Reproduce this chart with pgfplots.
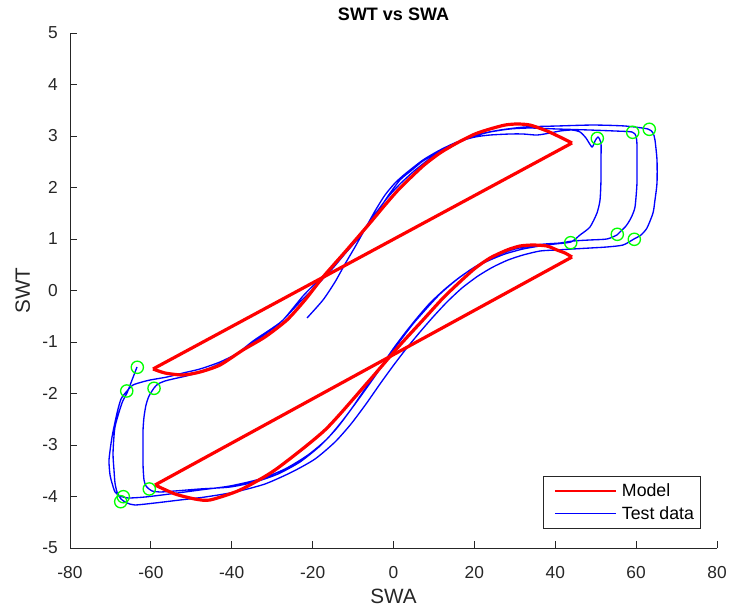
\documentclass[border=0pt]{standalone}
\usepackage{pgfplots}
\pgfplotsset{compat=1.18}
\usepackage{fontspec}
\setmainfont{Liberation Sans}
\definecolor{axgray}{gray}{0.15}
\definecolor{mred}{rgb}{1,0,0}
\definecolor{mblue}{rgb}{0,0,1}
\definecolor{mgreen}{rgb}{0,1,0}
\begin{document}
\begin{tikzpicture}
\useasboundingbox (-52.5pt,-46.5pt) rectangle (496.5pt,411pt);
\begin{axis}[
 at={(0pt,0pt)}, anchor=south west,
 scale only axis, width=485.25pt, height=386.25pt,
 xmin=-80, xmax=80, ymin=-5, ymax=5,
 axis x line*=bottom, axis y line*=left,
 axis line style={-, axgray, line width=0.6pt},
 xtick={-80,-60,-40,-20,0,20,40,60,80}, ytick={-5,-4,-3,-2,-1,0,1,2,3,4,5},
 xticklabels={-80,-60,-40,-20,0,20,40,60,80},
 yticklabels={-5,-4,-3,-2,-1,0,1,2,3,4,5},
 tick align=inside, major tick length=4.9pt,
 tick style={axgray, line width=0.6pt},
 ticklabel style={font=\fontsize{13pt}{15pt}\selectfont, text=axgray},
 xticklabel style={inner sep=0pt, anchor=north, yshift=-13.3pt},
 yticklabel style={inner sep=0pt, anchor=east, xshift=-9pt},
 title={SWT vs SWA},
 title style={font=\bfseries\fontsize{13.5pt}{16pt}\selectfont, at={(axis description cs:0.5,1)}, anchor=base, yshift=3pt},
 xlabel={SWA}, ylabel={SWT},
 label style={font=\fontsize{15.5pt}{18pt}\selectfont, text=axgray},
 xlabel style={at={(axis description cs:0.5,0)}, anchor=base, yshift=-42pt},
 ylabel style={at={(axis description cs:0,0.5)}, anchor=base, yshift=30pt},
 legend cell align=left,
 legend style={at={(axis description cs:0.9753,0.0369)}, anchor=south east, draw=axgray, line width=0.6pt, font=\fontsize{13.3pt}{15pt}\selectfont, inner xsep=3pt, inner ysep=3.5pt, row sep=2pt},
]
\addlegendimage{legend image code/.code={\draw[mred, line width=0.9pt] (5pt,0pt) -- (51pt,0pt); \path (0pt,0pt) (53pt,0pt);}}
\addlegendentry{Model}
\addlegendimage{legend image code/.code={\draw[mblue, line width=0.9pt] (5pt,0pt) -- (51pt,0pt); \path (0pt,0pt) (53pt,0pt);}}
\addlegendentry{Test data}

\addplot[mblue, line width=1pt, smooth, tension=0.4, forget plot] coordinates {
(-21.39,-0.534) (-17.43,-0.184) (-14.47,0.165) (-11.99,0.515) (-9.52,0.845) (-7.05,1.194) (-4.57,1.544) (-2.10,1.854) (0.37,2.087) (2.84,2.262) (7.29,2.534) (11.50,2.728) (15.70,2.883) (20.15,2.980) (23.86,3.019) (28.81,3.039) (32.02,3.039) (35.49,3.019) (38.70,3.058) (41.17,3.097) (44.14,3.116) (46.12,3.078) (47.60,2.961) (49.09,2.786) (49.83,2.903) (50.57,2.980) (51.31,2.864) (51.31,2.534) (51.31,2.146) (51.07,1.757) (50.32,1.505) (48.59,1.233) (46.12,1.078) (43.89,0.942)
(39.94,0.903) (36.23,0.864) (32.02,0.806) (27.57,0.709) (23.86,0.592) (20.15,0.456) (16.44,0.262) (12.74,0.029) (9.03,-0.243) (5.81,-0.534) (2.84,-0.825) (-0.12,-1.136) (-3.34,-1.505) (-6.55,-1.854) (-10.26,-2.282) (-13.97,-2.670) (-18.18,-3.019) (-23.12,-3.330) (-28.56,-3.563) (-34.25,-3.718) (-40.43,-3.816) (-47.85,-3.854) (-54.03,-3.893) (-57.74,-3.913) (-59.72,-3.893) (-60.46,-3.854)
(-61.20,-3.796) (-61.70,-3.680) (-61.94,-3.388) (-61.94,-3.000) (-61.94,-2.709) (-61.70,-2.456) (-61.20,-2.223) (-60.46,-2.048) (-59.22,-1.893)
(-58.23,-1.815) (-56.50,-1.757) (-54.53,-1.718) (-50.32,-1.641) (-45.38,-1.505) (-40.43,-1.330) (-34.74,-0.981) (-31.03,-0.786) (-27.32,-0.573) (-22.38,-0.107) (-18.92,0.165) (-15.70,0.398) (-12.49,0.670) (-9.03,0.981) (-6.55,1.233) (-4.08,1.505) (-1.36,1.835) (1.61,2.146) (4.57,2.340) (7.29,2.515) (11.50,2.709) (15.70,2.864) (20.15,3.000) (23.86,3.078) (28.81,3.136) (33.75,3.155) (40.43,3.136) (48.59,3.116) (54.77,3.097) (58.98,3.078)
(59.97,3.000) (60.21,2.825) (60.21,2.534) (60.21,2.087) (59.72,1.621) (58.73,1.408) (57.49,1.252) (56.01,1.136) (55.27,1.078)
(52.79,1.000) (48.59,0.981) (44.39,0.961) (41.17,0.922) (37.46,0.903) (33.75,0.864) (30.05,0.806) (26.34,0.709) (22.63,0.573) (18.92,0.398) (15.21,0.184) (11.50,-0.068) (8.28,-0.340) (4.82,-0.650) (1.61,-0.981) (-1.61,-1.330) (-5.07,-1.718) (-8.78,-2.126) (-12.49,-2.515) (-16.44,-2.883) (-21.14,-3.194) (-26.83,-3.466) (-33.01,-3.660) (-40.43,-3.796) (-47.85,-3.874) (-55.27,-3.951) (-61.45,-4.010) (-65.65,-4.029) (-67.63,-3.990) (-68.87,-3.913) (-69.61,-3.738) (-70.10,-3.582) (-70.35,-3.291) (-69.61,-2.845) (-68.37,-2.379) (-67.38,-2.107) (-65.90,-1.951)
(-64.42,-1.835) (-62.19,-1.777) (-60.21,-1.738) (-56.01,-1.680) (-52.05,-1.602) (-47.85,-1.524) (-42.90,-1.388) (-37.96,-1.194) (-33.01,-0.922) (-28.07,-0.631) (-23.12,-0.223) (-18.67,0.126) (-14.96,0.437) (-11.25,0.786) (-7.79,1.136) (-4.57,1.485) (-1.36,1.815) (1.61,2.068) (4.82,2.301) (8.53,2.534) (12.74,2.748) (16.94,2.922) (21.39,3.039) (26.34,3.116) (32.52,3.175) (40.43,3.194) (49.33,3.213) (57.25,3.194) (62.93,3.136)
(64.17,3.058) (64.66,2.922) (65.16,2.534) (65.16,2.087) (64.66,1.757) (64.17,1.505) (62.69,1.214) (61.20,1.078) (59.47,1.000)
(56.75,0.883) (52.79,0.845) (48.59,0.825) (44.39,0.806) (40.18,0.786) (36.23,0.767) (32.02,0.689) (28.31,0.592) (24.60,0.456) (20.90,0.282) (16.94,0.049) (13.23,-0.223) (9.77,-0.515) (6.55,-0.806) (3.09,-1.136) (-0.12,-1.466) (-3.34,-1.815) (-6.80,-2.204) (-10.51,-2.592) (-14.47,-2.942) (-19.41,-3.272) (-25.10,-3.524) (-31.78,-3.757) (-39.19,-3.913) (-46.61,-4.010) (-52.79,-4.068) (-58.98,-4.126) (-63.92,-4.165) (-65.90,-4.126) (-67.38,-4.049) (-68.37,-3.913) (-68.87,-3.738) (-69.12,-3.485) (-69.36,-3.155) (-68.87,-2.650) (-67.14,-2.184) (-65.90,-1.990) (-64.66,-1.738) (-63.43,-1.485)
};

\addplot[mred, line width=2.4pt, smooth, tension=0.4, forget plot] coordinates {
(-59.47,-1.524) (-56.50,-1.602) (-52.05,-1.641) (-47.85,-1.583) (-42.90,-1.447) (-37.22,-1.155) (-31.78,-0.903) (-26.34,-0.573) (-21.88,-0.184) (-17.43,0.262) (-11.99,0.748) (-5.81,1.311) (-2.10,1.660) (1.61,1.990) (7.29,2.417) (11.50,2.670) (15.70,2.864) (20.15,3.039) (23.86,3.136) (27.57,3.213) (30.54,3.233) (33.75,3.213) (37.96,3.097) (41.17,2.980) (44.14,2.864)
};
\addplot[mred, line width=2.4pt, forget plot] coordinates {(44.14,2.864) (-59.47,-1.524)};
\addplot[mred, line width=2.4pt, smooth, tension=0.4, forget plot] coordinates {
(-58.98,-3.777) (-54.03,-3.951) (-49.09,-4.049) (-45.38,-4.068) (-37.96,-3.874) (-29.30,-3.485) (-16.94,-2.709) (-6.31,-1.777) (1.61,-1.058) (7.29,-0.573) (12.74,-0.107) (19.66,0.398) (23.86,0.631) (28.07,0.786) (31.28,0.864) (34.50,0.883) (37.96,0.864) (40.43,0.786) (42.41,0.728) (44.14,0.650)
};
\addplot[mred, line width=2.4pt, forget plot] coordinates {(44.14,0.650) (-58.98,-3.777)};

\addplot[only marks, mark=o, mark size=4.6pt, draw=mgreen, mark options={line width=1pt, draw=mgreen}, forget plot] coordinates {
(50.40,2.955) (59.15,3.072) (63.25,3.130) (43.82,0.928) (55.34,1.091) (59.55,0.994)
(-63.35,-1.491) (-65.97,-1.951) (-59.22,-1.899) (-60.39,-3.854) (-66.82,-4.004) (-67.46,-4.101)
};
\end{axis}
\end{tikzpicture}
\end{document}
